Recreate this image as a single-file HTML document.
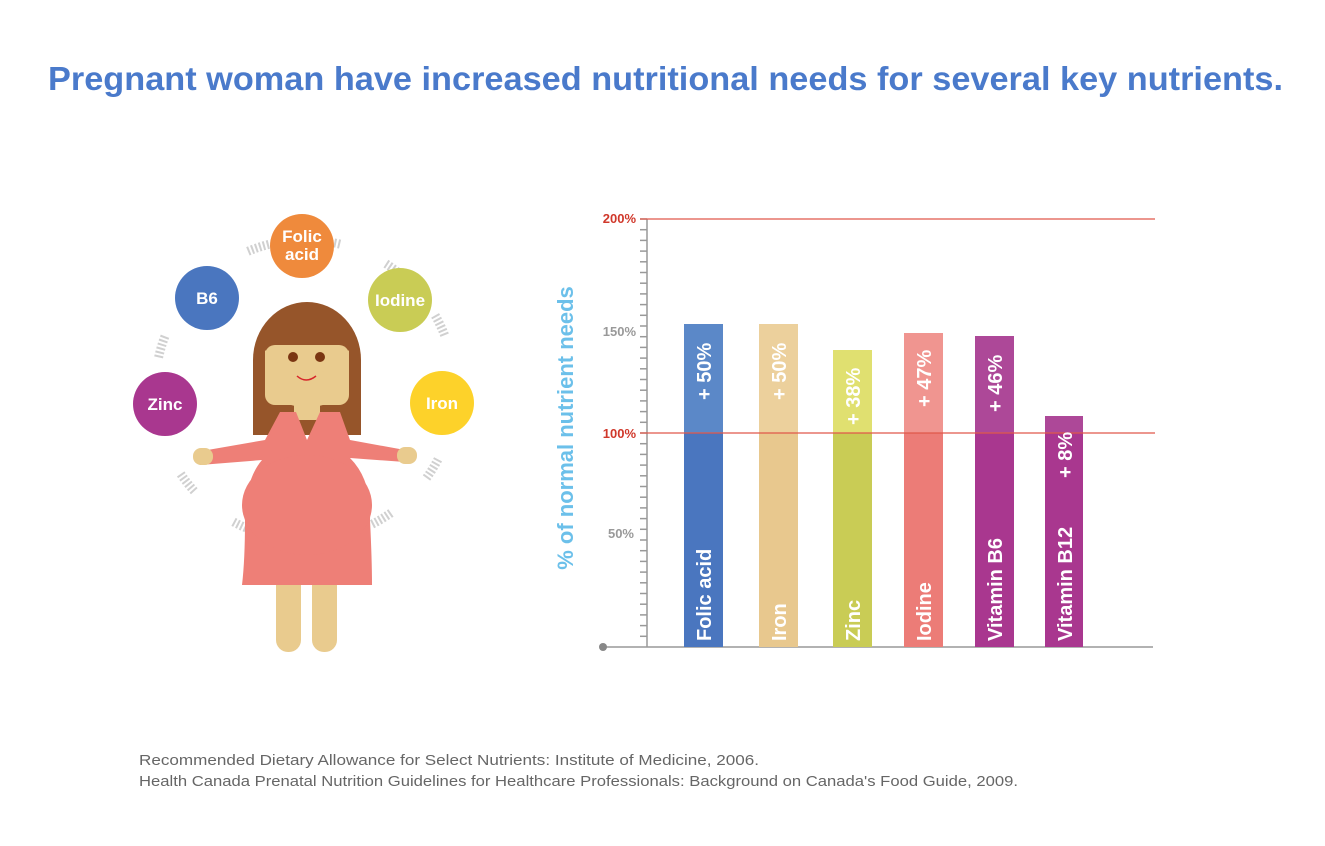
<!DOCTYPE html>
<html><head><meta charset="utf-8"><style>
body{margin:0;background:#fff;width:1325px;height:841px;overflow:hidden;font-family:"Liberation Sans",sans-serif}
</style></head><body>
<svg width="1325" height="841" xmlns="http://www.w3.org/2000/svg">
<text x="48" y="90" textLength="1235" lengthAdjust="spacingAndGlyphs" font-family="Liberation Sans, sans-serif" font-weight="bold" font-size="33" fill="#4a7acb">Pregnant woman have increased nutritional needs for several key nutrients.</text>

<!-- dashed arc segments -->
<g fill="none" stroke="#d0d0d0" stroke-width="9" stroke-dasharray="2 2">
<circle cx="305" cy="390" r="150" stroke-dasharray="2 2 2 2 2 2 2 2 2 2 2 50"/>
</g>
<!-- woman -->
<path d="M253 360 A54 58 0 0 1 361 360 L361 435 L253 435 Z" fill="#96552a"/>
<rect x="265" y="345" width="84" height="60" rx="10" fill="#e9cb8e"/>
<path d="M265 350 Q307 400 349 350 L349 390 Q307 425 265 390Z" fill="#e9cb8e"/>
<rect x="294" y="395" width="26" height="25" fill="#e9cb8e"/>
<circle cx="293" cy="357" r="5" fill="#7a3512"/><circle cx="320" cy="357" r="5" fill="#7a3512"/>
<path d="M297 376 Q306 384 316 376" stroke="#d7262b" stroke-width="1.5" fill="none"/>
<rect x="276" y="570" width="25" height="82" rx="12" fill="#e9cb8e"/>
<rect x="312" y="570" width="25" height="82" rx="12" fill="#e9cb8e"/>
<path d="M196 452 L265 440 L280 412 L296 412 L307 440 L320 412 L340 412 L350 440 L405 450 L405 462 L350 458 Q372 480 370 520 Q372 560 372 585 L242 585 Q245 560 245 520 Q245 480 262 460 L200 465Z" fill="#ee7f77"/>
<ellipse cx="307" cy="505" rx="65" ry="50" fill="#ee7f77"/>
<rect x="193" y="448" width="20" height="17" rx="8" fill="#e9cb8e"/>
<rect x="397" y="447" width="20" height="17" rx="8" fill="#e9cb8e"/>

<g font-family="Liberation Sans, sans-serif" font-weight="bold" fill="#fff" text-anchor="middle" font-size="17">
<circle cx="302" cy="246" r="32" fill="#ef8a3c"/><text x="302" y="242">Folic</text><text x="302" y="260">acid</text>
<circle cx="207" cy="298" r="32" fill="#4a76bf"/><text x="207" y="304">B6</text>
<circle cx="400" cy="300" r="32" fill="#c9cc55"/><text x="400" y="306">Iodine</text>
<circle cx="165" cy="404" r="32" fill="#a9378f"/><text x="165" y="410">Zinc</text>
<circle cx="442" cy="403" r="32" fill="#fdd22a"/><text x="442" y="409">Iron</text>
</g>

<!-- chart -->
<g stroke="#999" stroke-width="1.5">
<line x1="647" y1="219" x2="647" y2="647"/>
<line x1="603" y1="647" x2="1153" y2="647"/>
</g>
<circle cx="603" cy="647" r="4" fill="#888"/>
<g stroke="#999" stroke-width="1.5" id="ticks"></g>
<script>
var g=document.getElementById('ticks');
for(var i=0;i<40;i++){var y=219+i*10.7;var l=document.createElementNS('http://www.w3.org/2000/svg','line');l.setAttribute('x1',640);l.setAttribute('x2',647);l.setAttribute('y1',y);l.setAttribute('y2',y);g.appendChild(l);}
</script>
<g font-family="Liberation Sans, sans-serif" font-weight="bold" font-size="13" text-anchor="end">
<text x="636" y="223" fill="#d0382b">200%</text>
<text x="636" y="336" fill="#999">150%</text>
<text x="636" y="438" fill="#d0382b">100%</text>
<text x="634" y="538" fill="#999">50%</text>
</g>
<text transform="translate(573,428) rotate(-90)" text-anchor="middle" font-family="Liberation Sans, sans-serif" font-weight="bold" font-size="22" fill="#6cc0ea">% of normal nutrient needs</text>

<g>
<rect x="684" y="324" width="39" height="109" fill="#5b88c8"/><rect x="684" y="433" width="39" height="214" fill="#4a76bf"/>
<rect x="759" y="324" width="39" height="109" fill="#ecd09c"/><rect x="759" y="433" width="39" height="214" fill="#e8c88e"/>
<rect x="833" y="350" width="39" height="83" fill="#e0e070"/><rect x="833" y="433" width="39" height="214" fill="#c9cc55"/>
<rect x="904" y="333" width="39" height="100" fill="#f09590"/><rect x="904" y="433" width="39" height="214" fill="#ec7c77"/>
<rect x="975" y="336" width="39" height="97" fill="#ad4898"/><rect x="975" y="433" width="39" height="214" fill="#a9378f"/>
<rect x="1045" y="416" width="38" height="17" fill="#ad4898"/><rect x="1045" y="433" width="38" height="214" fill="#a9378f"/>
</g>
<g stroke="#e0574a" stroke-width="1.2">
<line x1="640" y1="219" x2="1155" y2="219"/>
<line x1="640" y1="433" x2="1155" y2="433"/>
</g>
<g font-family="Liberation Sans, sans-serif" font-weight="bold" font-size="20" fill="#fff">
<text transform="translate(711,400) rotate(-90)">+ 50%</text>
<text transform="translate(786,400) rotate(-90)">+ 50%</text>
<text transform="translate(860,425) rotate(-90)">+ 38%</text>
<text transform="translate(931,407) rotate(-90)">+ 47%</text>
<text transform="translate(1002,412) rotate(-90)">+ 46%</text>
<text transform="translate(1072,478) rotate(-90)">+ 8%</text>
<text transform="translate(711,641) rotate(-90)">Folic acid</text>
<text transform="translate(786,641) rotate(-90)">Iron</text>
<text transform="translate(860,641) rotate(-90)">Zinc</text>
<text transform="translate(931,641) rotate(-90)">Iodine</text>
<text transform="translate(1002,641) rotate(-90)">Vitamin B6</text>
<text transform="translate(1072,641) rotate(-90)">Vitamin B12</text>
</g>

<g font-family="Liberation Sans, sans-serif" font-size="15" fill="#666">
<text x="139" y="765" textLength="620" lengthAdjust="spacingAndGlyphs">Recommended Dietary Allowance for Select Nutrients: Institute of Medicine, 2006.</text>
<text x="139" y="786" textLength="879" lengthAdjust="spacingAndGlyphs">Health Canada Prenatal Nutrition Guidelines for Healthcare Professionals: Background on Canada's Food Guide, 2009.</text>
</g>
</svg>
</body></html>
